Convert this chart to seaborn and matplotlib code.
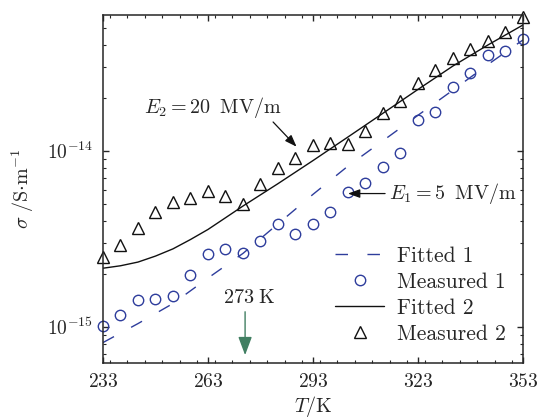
import matplotlib
matplotlib.use("Agg")
import matplotlib.pyplot as plt
import matplotlib.ticker as mticker
import seaborn as sns
import numpy as np

# measured points
T_meas = [233, 238, 243, 248, 253, 258, 263, 268, 273, 278, 283, 288, 293,
          298, 303, 308, 313, 318, 323, 328, 333, 338, 343, 348, 353]
sigma_meas1 = [1.01e-15, 1.17e-15, 1.41e-15, 1.43e-15, 1.49e-15, 1.96e-15,
               2.59e-15, 2.76e-15, 2.63e-15, 3.07e-15, 3.85e-15, 3.37e-15,
               3.82e-15, 4.46e-15, 5.80e-15, 6.58e-15, 8.11e-15, 9.66e-15,
               1.49e-14, 1.65e-14, 2.29e-14, 2.78e-14, 3.50e-14, 3.68e-14,
               4.30e-14]
sigma_meas2 = [2.48e-15, 2.91e-15, 3.66e-15, 4.47e-15, 5.09e-15, 5.37e-15,
               5.93e-15, 5.53e-15, 4.97e-15, 6.48e-15, 8.00e-15, 9.05e-15,
               1.077e-14, 1.11e-14, 1.086e-14, 1.29e-14, 1.63e-14, 1.92e-14,
               2.42e-14, 2.87e-14, 3.37e-14, 3.80e-14, 4.19e-14, 4.71e-14,
               5.77e-14]

# fitted curves
T_fit1 = [233, 243, 253, 263, 273, 283, 293, 303, 313, 323, 333, 343, 353]
sigma_fit1 = [8.13e-16, 1.042e-15, 1.355e-15, 1.89e-15, 2.61e-15, 3.84e-15,
              5.65e-15, 8.18e-15, 1.14e-14, 1.59e-14, 2.21e-14, 3.09e-14,
              4.26e-14]
T_fit2 = [233, 238, 243, 248, 253, 258, 263, 268, 273, 283, 293, 303, 313,
          323, 333, 343, 353]
sigma_fit2 = [2.15e-15, 2.22e-15, 2.33e-15, 2.52e-15, 2.77e-15, 3.13e-15,
              3.57e-15, 4.16e-15, 4.85e-15, 6.50e-15, 8.79e-15, 1.197e-14,
              1.633e-14, 2.23e-14, 3.03e-14, 3.99e-14, 5.18e-14]

x_ticks = [233, 263, 293, 323, 353]
y_ticks = [1e-15, 1e-14]

blue = "#2e3d9c"
green = "#417f62"

sns.set_style("ticks")
plt.rcParams.update({
    "font.family": "serif",
    "font.serif": ["cmr10", "DejaVu Serif"],
    "mathtext.fontset": "cm",
    "axes.unicode_minus": False,
    "font.size": 14,
    "xtick.direction": "in",
    "ytick.direction": "in",
    "axes.linewidth": 1.1,
})

fig = plt.figure(figsize=(5.37, 4.18), dpi=100)
ax = fig.add_axes([0.1918, 0.1316, 0.7821, 0.8325])

sns.lineplot(x=T_fit1, y=sigma_fit1, ax=ax, color=blue, lw=1.0,
             linestyle=(0, (9, 14)), errorbar=None, label="Fitted 1")
sns.lineplot(x=T_meas, y=sigma_meas1, ax=ax, color=blue, linestyle="",
             marker="o", markersize=7.5, markerfacecolor="none",
             markeredgecolor=blue, markeredgewidth=1.0, errorbar=None,
             clip_on=False, label="Measured 1")
sns.lineplot(x=T_fit2, y=sigma_fit2, ax=ax, color="#111111", lw=1.0,
             errorbar=None, label="Fitted 2")
sns.lineplot(x=T_meas, y=sigma_meas2, ax=ax, color="#111111", linestyle="",
             marker="^", markersize=8, markerfacecolor="none",
             markeredgecolor="#111111", markeredgewidth=1.0, errorbar=None,
             clip_on=False, label="Measured 2")

ax.set_yscale("log")
ax.set_xlim(233, 353)
ax.set_ylim(10 ** -15.206, 10 ** -13.229)
ax.set_xticks(x_ticks)
ax.xaxis.set_major_formatter(mticker.FuncFormatter(lambda v, p: r"$%d$" % v))
ax.xaxis.set_minor_locator(mticker.MultipleLocator(5))
ax.set_yticks(y_ticks)
ax.yaxis.set_major_formatter(
    mticker.FuncFormatter(lambda v, p: r"$10^{%d}$" % round(np.log10(v))))
ax.yaxis.set_minor_locator(mticker.LogLocator(base=10, subs=np.arange(2, 10)))
ax.yaxis.set_minor_formatter(mticker.NullFormatter())
ax.tick_params(which="both", top=True, right=True, labelsize=14)
ax.tick_params(which="major", length=4.5, width=1.0, pad=7)
ax.tick_params(which="minor", length=2.2, width=0.8)

ax.set_xlabel(r"$T/\mathrm{K}$", fontsize=14.5)
ax.set_ylabel(r"$\sigma\ /\mathrm{S{\cdot}m^{-1}}$", fontsize=14.5)
ax.xaxis.set_label_coords(0.5, -0.09)
ax.yaxis.set_label_coords(-0.16, 0.5)

# annotations
ax.text(264.3, 1.75e-14, r"$E_2 = 20\;\;\mathrm{MV/m}$", ha="center",
        va="center", fontsize=14.5)
ax.annotate("", xy=(288.3, 1.054e-14), xytext=(281.6, 1.456e-14),
            arrowprops=dict(arrowstyle="-|>,head_length=0.55,head_width=0.2",
                            color="#111111", lw=0.9, mutation_scale=13,
                            shrinkA=0, shrinkB=0))
ax.text(314.7, 5.75e-15, r"$E_1 = 5\;\;\mathrm{MV/m}$", ha="left",
        va="center", fontsize=14.5)
ax.annotate("", xy=(303.0, 5.71e-15), xytext=(313.6, 5.71e-15),
            arrowprops=dict(arrowstyle="-|>,head_length=0.55,head_width=0.2",
                            color="#111111", lw=0.9, mutation_scale=13,
                            shrinkA=0, shrinkB=0))
ax.text(274.7, 1.456e-15, r"$273\;\mathrm{K}$", ha="center", va="center",
        fontsize=14.5)
ax.annotate("", xy=(273.6, 6.9e-16), xytext=(273.6, 1.216e-15),
            arrowprops=dict(arrowstyle="-|>,head_length=0.8,head_width=0.3",
                            color=green, lw=1.0, mutation_scale=14,
                            shrinkA=0, shrinkB=0))

ax.legend(loc="lower right", bbox_to_anchor=(0.96, 0.055), frameon=False,
          handlelength=2.3, handletextpad=0.6, labelspacing=0.3,
          borderaxespad=0, borderpad=0, numpoints=1, fontsize=15.5)

fig.savefig("out.png", dpi=100)
